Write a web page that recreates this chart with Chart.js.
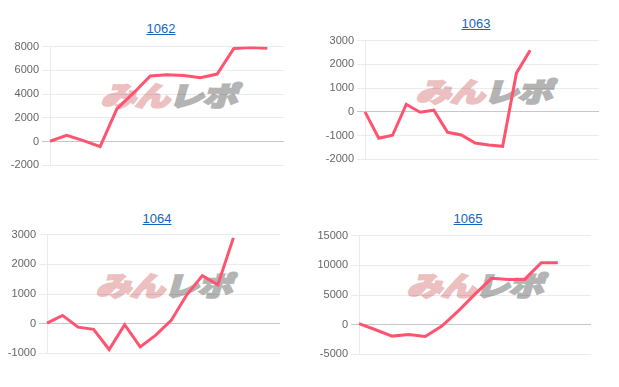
<!DOCTYPE html>
<html>
<head>
<meta charset="utf-8">
<script src="https://cdn.jsdelivr.net/npm/chart.js@4.4.1/dist/chart.umd.min.js"></script>
<style>
  body { margin: 0; background: #fff; width: 619px; height: 387px; overflow: hidden; font-family: Arial, "Liberation Sans", sans-serif; }
  .title { position: absolute; width: 100px; text-align: center; font-size: 13px; line-height: 16px; }
  .title a { color: #1565c0; text-decoration: underline; }
  .mark { position: absolute; width: 150px; height: 30px; line-height: 30px; font-family: "Noto Sans CJK JP", sans-serif; font-weight: 900; font-size: 27px; white-space: nowrap; }
  .mark .in { display: inline-block; transform-origin: 0 50%; transform: skewX(-16deg) scaleX(1.3); letter-spacing: -1px; }
  .mark .a { color: #ecc0c0; -webkit-text-stroke: 2px #ecc0c0; }
  .mark .b { color: #b4b4b4; -webkit-text-stroke: 2px #b4b4b4; }
  canvas { position: absolute; }
</style>
</head>
<body>

<div class="title" style="left:111px; top:21px;"><a href="#">1062</a></div>
<div class="title" style="left:426px; top:16px;"><a href="#">1063</a></div>
<div class="title" style="left:107px; top:211px;"><a href="#">1064</a></div>
<div class="title" style="left:418px; top:211px;"><a href="#">1065</a></div>

<div class="mark" style="left:104px; top:80px;"><span class="in"><span class="a">みん</span><span class="b">レポ</span></span></div>
<div class="mark" style="left:419px; top:76px;"><span class="in"><span class="a">みん</span><span class="b">レポ</span></span></div>
<div class="mark" style="left:99px; top:270px;"><span class="in"><span class="a">みん</span><span class="b">レポ</span></span></div>
<div class="mark" style="left:410px; top:270px;"><span class="in"><span class="a">みん</span><span class="b">レポ</span></span></div>

<canvas id="c1062" width="284" height="138" style="left:0px; top:37px;"></canvas>
<canvas id="c1063" width="284" height="138" style="left:315px; top:31px;"></canvas>
<canvas id="c1064" width="280" height="138" style="left:0px; top:225px;"></canvas>
<canvas id="c1065" width="282" height="138" style="left:309px; top:226px;"></canvas>

<script>
// x categories (not shown on the chart)
var labels1062 = ['1','2','3','4','5','6','7','8','9','10','11','12','13','14','15'];
var labels1063 = ['1','2','3','4','5','6','7','8','9','10','11','12','13','14','15','16','17','18'];
var labels1064 = ['1','2','3','4','5','6','7','8','9','10','11','12','13','14','15','16'];
var labels1065 = ['1','2','3','4','5','6','7','8','9','10','11','12','13','14','15'];

// series values
var values1062 = [30, 540, 80, -420, 2750, 4100, 5520, 5630, 5570, 5380, 5690, 7840, 7920, 7870];
var values1063 = [0, -1110, -985, 320, -15, 70, -860, -970, -1310, -1390, -1450, 1630, 2590];
var values1064 = [20, 280, -115, -190, -870, -35, -780, -385, 115, 975, 1620, 1310, 2890];
var values1065 = [170, -850, -1920, -1640, -1980, -230, 2320, 5140, 7800, 7630, 7630, 10450, 10450];

// y tick labels
var ticks1062 = [-2000, 0, 2000, 4000, 6000, 8000];
var ticks1063 = [-2000, -1000, 0, 1000, 2000, 3000];
var ticks1064 = [-1000, 0, 1000, 2000, 3000];
var ticks1065 = [-5000, 0, 5000, 10000, 15000];

var lineColor = 'rgb(255, 84, 112)';

function makeChart(id, labels, values, ticks, axisWidth) {
    var ctx = document.getElementById(id).getContext('2d');
    return new Chart(ctx, {
        type: 'line',
        data: {
            labels: labels,
            datasets: [{
                data: values,
                borderColor: lineColor,
                borderWidth: 3,
                pointRadius: 0,
                fill: false,
                tension: 0
            }]
        },
        options: {
            responsive: false,
            animation: false,
            layout: { padding: 0 },
            plugins: { legend: { display: false }, tooltip: { enabled: false } },
            scales: {
                x: { display: false },
                y: {
                    min: ticks[0],
                    max: ticks[ticks.length - 1],
                    ticks: {
                        stepSize: ticks[1] - ticks[0],
                        color: '#666',
                        font: { size: 11, family: 'Arial, "Liberation Sans", sans-serif' },
                        callback: function (v) { return String(v); }
                    },
                    grid: {
                        color: function (c) { return c.tick && c.tick.value === 0 ? 'rgba(0,0,0,0.22)' : 'rgba(0,0,0,0.08)'; },
                        tickLength: 8
                    },
                    border: { color: 'rgba(0,0,0,0.08)' },
                    afterFit: function (scale) { scale.width = axisWidth; }
                }
            }
        }
    });
}

makeChart('c1062', labels1062, values1062, ticks1062, 50);
makeChart('c1063', labels1063, values1063, ticks1063, 50);
makeChart('c1064', labels1064, values1064, ticks1064, 47);
makeChart('c1065', labels1065, values1065, ticks1065, 50);
</script>
</body>
</html>
